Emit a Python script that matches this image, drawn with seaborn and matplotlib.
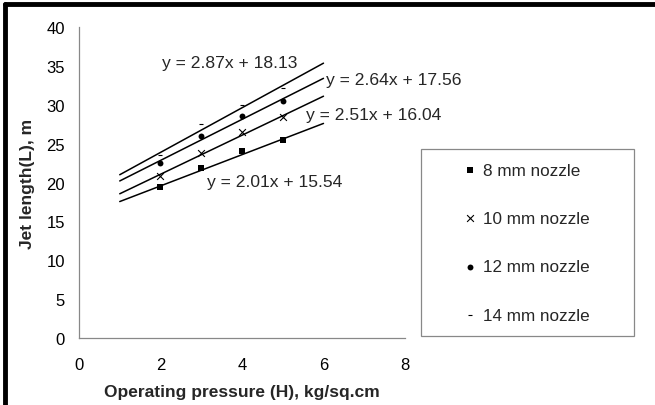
import numpy as np
import pandas as pd
import matplotlib
matplotlib.use("Agg")
import matplotlib.pyplot as plt
import seaborn as sns
from matplotlib.patches import Rectangle

# =====================================
# Data
# =====================================
pressure = [2, 3, 4, 5]
nozzles = ["8 mm nozzle", "10 mm nozzle", "12 mm nozzle", "14 mm nozzle"]
jet_8mm = [19.4, 21.9, 24.0, 25.5]
jet_10mm = [20.9, 23.8, 26.5, 28.4]
jet_12mm = [22.5, 26.0, 28.5, 30.5]
jet_14mm = [23.5, 27.5, 30.0, 32.2]

# fitted trend lines (as printed on the chart)
slopes = [2.01, 2.51, 2.64, 2.87]
intercepts = [15.54, 16.04, 17.56, 18.13]
trend_x = [1, 6]

x_ticks = [0, 2, 4, 6, 8]
y_ticks = [0, 5, 10, 15, 20, 25, 30, 35, 40]

# =====================================
# Build long table
# =====================================
df = pd.DataFrame({
    "pressure": pressure * 4,
    "length": jet_8mm + jet_10mm + jet_12mm + jet_14mm,
    "nozzle": np.repeat(nozzles, len(pressure)),
})

trend_rows = []
for name, m, c in zip(nozzles, slopes, intercepts):
    for xv in trend_x:
        trend_rows.append({"pressure": xv, "length": m * xv + c, "nozzle": name})
trend = pd.DataFrame(trend_rows)

# =====================================
# Plot
# =====================================
sns.set_style("white")
plt.rcParams["font.family"] = ["Liberation Sans", "DejaVu Sans"]

fig = plt.figure(figsize=(6.55, 4.06), dpi=100)
ax = fig.add_axes([0.1206, 0.1650, 0.4977, 0.7660])

sns.lineplot(data=trend, x="pressure", y="length", units="nozzle",
             estimator=None, color="black", linewidth=1.1, ax=ax, legend=False)

markers = {"8 mm nozzle": "s", "10 mm nozzle": "x",
           "12 mm nozzle": "o", "14 mm nozzle": "_"}
sizes_pt = {"8 mm nozzle": 16, "10 mm nozzle": 24,
            "12 mm nozzle": 18, "14 mm nozzle": 12}
for name in nozzles:
    sub = df[df["nozzle"] == name]
    sns.scatterplot(data=sub, x="pressure", y="length", marker=markers[name],
                    color="black", s=sizes_pt[name],
                    linewidth=0.8 if markers[name] in ("x", "_") else 0,
                    label=name, ax=ax, legend=False)

# equation labels
eq_pos = [(3.15, 20.1), (5.57, 28.8), (6.06, 33.3), (2.04, 35.5)]
for (tx, ty), m, c in zip(eq_pos, slopes, intercepts):
    ax.text(tx, ty, f"y = {m:.2f}x + {c:.2f}", fontsize=12.6,
            ha="left", va="center", clip_on=False)

ax.set_xlim(0, 8)
ax.set_ylim(0, 40)
ax.set_xticks(x_ticks)
ax.set_yticks(y_ticks)
ax.tick_params(axis="both", labelsize=12, colors="#888888", labelcolor="black",
               direction="out", length=4, width=0.8)
ax.tick_params(axis="x", pad=10)
ax.tick_params(axis="y", pad=6)
ax.set_xlabel("Operating pressure (H), kg/sq.cm", fontsize=12.5, fontweight="bold", labelpad=8)
ax.set_ylabel("Jet length(L), m", fontsize=12.5, fontweight="bold", labelpad=8)

for side in ["top", "right"]:
    ax.spines[side].set_visible(False)
for side in ["left", "bottom"]:
    ax.spines[side].set_color("#888888")
    ax.spines[side].set_linewidth(0.9)

# legend box drawn on the figure
fig.patches.append(Rectangle((0.643, 0.170), 0.325, 0.460, transform=fig.transFigure,
                             facecolor="white", edgecolor="#888888", linewidth=0.9))
handles, labels = ax.get_legend_handles_labels()
fig.legend(handles, labels, loc="center left", bbox_to_anchor=(0.683, 0.400),
           frameon=False, fontsize=12.3, labelspacing=1.95, handlelength=0.8,
           handletextpad=0.4, markerscale=1.0)

# thick border on top and left edges of the figure
fig.add_artist(plt.Line2D([0.007, 1.0], [0.988, 0.988], transform=fig.transFigure,
                          color="black", linewidth=3.5))
fig.add_artist(plt.Line2D([0.007, 0.007], [0.0, 0.988], transform=fig.transFigure,
                          color="black", linewidth=3.5))

plt.savefig("out.png", dpi=100)
print("Saved out.png")
